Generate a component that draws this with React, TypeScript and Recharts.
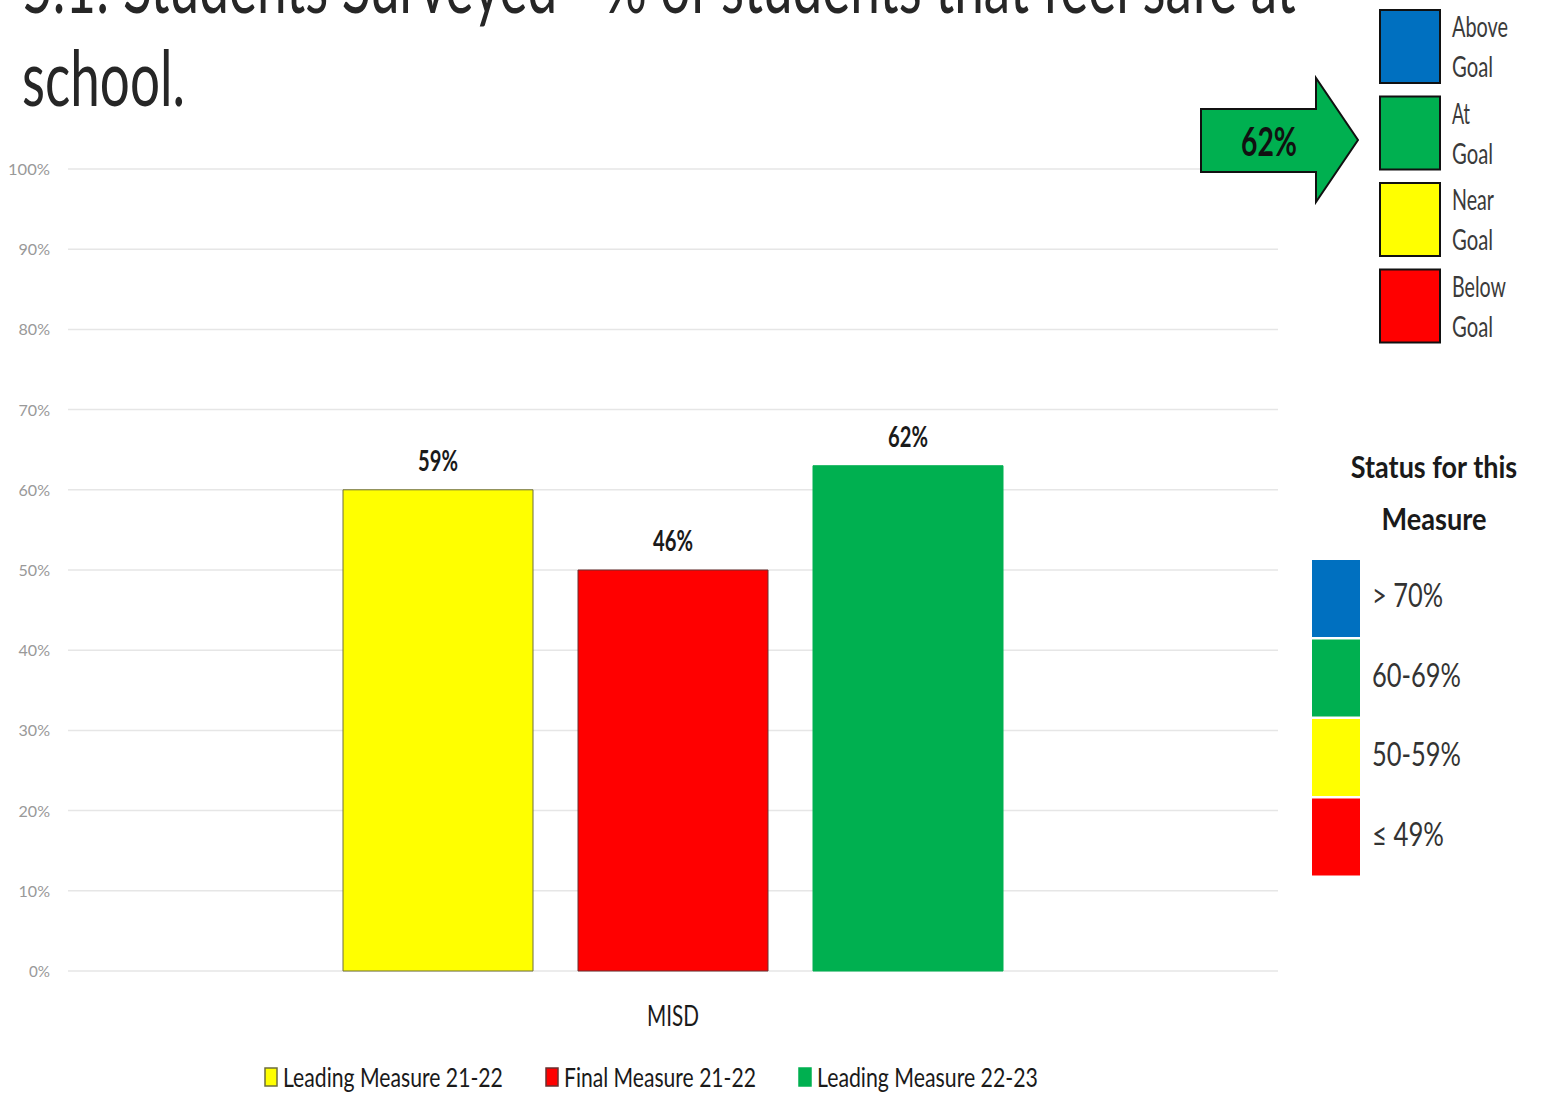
import React from 'react';
import { BarChart, Bar, XAxis, YAxis, CartesianGrid, Legend, LabelList } from 'recharts';

// chart data
const categories = ['MISD'];
const seriesKeys = ['lead2122', 'final2122', 'lead2223'];
const seriesNames = ['Leading Measure 21-22', 'Final Measure 21-22', 'Leading Measure 22-23'];
// bar heights as drawn, and the value labels printed over them (they differ in the source)
const barValues = [60, 50, 63];
const barLabels = ['59%', '46%', '62%'];
const yTicks = [0, 10, 20, 30, 40, 50, 60, 70, 80, 90, 100];

// side panels
const titleLines = ['5.1: Students Surveyed - % of students that feel safe at', 'school.'];
const goalNames = [['Above', 'Goal'], ['At', 'Goal'], ['Near', 'Goal'], ['Below', 'Goal']];
const statusRanges = ['> 70%', '60-69%', '50-59%', '≤ 49%'];
const currentValue = '62%';
const statusHeading = ['Status for this', 'Measure'];

// styles
const FONT = "Lato, 'Open Sans', 'Liberation Sans', sans-serif";
const seriesColors = ['#FFFF00', '#FF0000', '#00B050'];
const seriesStrokes = ['#6e6e3c', '#6a3030', '#00B050'];
const statusColors = ['#0070C0', '#00B050', '#FFFF00', '#FF0000'];
const legendTextWidths = [220, 192, 221];
const goalTextWidths = [[56, 41], [18, 41], [42, 41], [54, 41]];
const rangeTextWidths = [71, 89, 89, 72];

const rows = categories.map((name) => {
  const row: any = { name };
  seriesKeys.forEach((k, i) => {
    row[k] = barValues[i];
    row[k + 'Label'] = barLabels[i];
  });
  return row;
});

// the source uses a narrow face; measure and squeeze horizontally to the widths seen
let ctx: CanvasRenderingContext2D | null = null;
const measure = (s: string, size: number, weight: number) => {
  if (!ctx) ctx = document.createElement('canvas').getContext('2d');
  if (!ctx) return s.length * size * 0.5;
  ctx.font = `${weight} ${size}px ${FONT}`;
  return ctx.measureText(s).width;
};

const Squeezed = ({ x, y, w, size, weight = 400, fill = '#262626', anchor = 'start', children }: any) => {
  const s = String(children);
  const sx = w / measure(s, size, weight);
  return (
    <text
      transform={`translate(${x},${y}) scale(${sx},1)`}
      x={0}
      y={0}
      fontSize={size}
      fontWeight={weight}
      fill={fill}
      textAnchor={anchor}
      fontFamily={FONT}
    >
      {s}
    </text>
  );
};

const YTick = (props: any) => {
  const label = `${props.payload.value}%`;
  return (
    <Squeezed x={props.x} y={props.y + 6} w={label.length * 10.5} size={16} fill="#999" anchor="end">
      {label}
    </Squeezed>
  );
};

const XTick = (props: any) => (
  <Squeezed x={props.x} y={props.y + 47} w={52} size={29} fill="#1a1a1a" anchor="middle">
    {props.payload.value}
  </Squeezed>
);

const BarLabel = (props: any) => {
  const { x, y, width, value } = props;
  return (
    <Squeezed x={Number(x) + Number(width) / 2} y={Number(y) - 19} w={40} size={28} weight={700} fill="#1a1a1a" anchor="middle">
      {value}
    </Squeezed>
  );
};

const BottomLegend = (props: any) => {
  const payload = [...(props.payload || [])].sort(
    (a: any, b: any) => seriesNames.indexOf(a.value) - seriesNames.indexOf(b.value)
  );
  return (
    <div style={{ display: 'flex', justifyContent: 'flex-start', paddingLeft: 264, gap: 40 }}>
      {payload.map((p: any) => {
        const i = seriesNames.indexOf(p.value);
        return (
          <svg key={p.value} width={21 + legendTextWidths[i]} height={36} style={{ display: 'block', overflow: 'visible' }}>
            <rect x={1} y={6} width={12} height={18} fill={seriesColors[i]} stroke={seriesStrokes[i]} strokeWidth={1.5} />
            <Squeezed x={19} y={25} w={legendTextWidths[i]} size={27} fill="#1a1a1a">
              {p.value}
            </Squeezed>
          </svg>
        );
      })}
    </div>
  );
};

const Panels = () => (
  <svg width={1541} height={1093} style={{ position: 'absolute', left: 0, top: 0, pointerEvents: 'none' }}>
    <Squeezed x={22} y={13} w={1275} size={78} fill="#262626">{titleLines[0]}</Squeezed>
    <Squeezed x={22} y={106} w={163} size={78} fill="#262626">{titleLines[1]}</Squeezed>

    <path d="M1201,109 L1316,109 L1316,78 L1358,140 L1316,202 L1316,172 L1201,172 Z" fill="#00B050" stroke="#111" strokeWidth={2} />
    <Squeezed x={1269} y={156} w={56} size={40} weight={700} fill="#111" anchor="middle">{currentValue}</Squeezed>

    {goalNames.map((lines, i) => {
      const top = 10 + i * 86.5;
      return (
        <g key={i}>
          <rect x={1380} y={top} width={60} height={73} fill={statusColors[i]} stroke="#111" strokeWidth={2} />
          <Squeezed x={1452} y={top + 27} w={goalTextWidths[i][0]} size={28} fill="#3a3a3a">{lines[0]}</Squeezed>
          <Squeezed x={1452} y={top + 67} w={goalTextWidths[i][1]} size={28} fill="#3a3a3a">{lines[1]}</Squeezed>
        </g>
      );
    })}

    <Squeezed x={1434} y={478} w={167} size={31} weight={700} fill="#1a1a1a" anchor="middle">{statusHeading[0]}</Squeezed>
    <Squeezed x={1434} y={530} w={105} size={31} weight={700} fill="#1a1a1a" anchor="middle">{statusHeading[1]}</Squeezed>

    {statusRanges.map((r, i) => {
      const top = 560 + i * 79.5;
      return (
        <g key={i}>
          <rect x={1312} y={top} width={48} height={77} fill={statusColors[i]} />
          <Squeezed x={1372} y={top + 47} w={rangeTextWidths[i]} size={33} fill="#333">{r}</Squeezed>
        </g>
      );
    })}
  </svg>
);

export default function App() {
  return (
    <div style={{ position: 'absolute', left: 0, top: 0, width: 1541, height: 1093, background: '#fff' }}>
      <BarChart
        width={1541}
        height={1093}
        data={rows}
        margin={{ top: 169, right: 263, bottom: 0, left: 0 }}
        barGap={45}
        barSize={190}
      >
        <CartesianGrid vertical={false} stroke="#e6e6e6" strokeWidth={1.5} />
        <XAxis dataKey="name" height={122} axisLine={false} tickLine={false} tick={<XTick />} />
        <YAxis
          width={68}
          domain={[0, 100]}
          ticks={yTicks}
          axisLine={false}
          tickLine={false}
          tickMargin={12}
          tick={<YTick />}
        />
        <Legend
          layout="horizontal"
          verticalAlign="middle"
          align="center"
          itemSorter={null}
          wrapperStyle={{ position: 'absolute', left: 0, top: 1062, width: 1541 }}
          content={<BottomLegend />}
        />
        {seriesKeys.map((k, i) => (
          <Bar
            key={k}
            dataKey={k}
            name={seriesNames[i]}
            fill={seriesColors[i]}
            stroke={seriesStrokes[i]}
            strokeWidth={1}
            isAnimationActive={false}
          >
            <LabelList dataKey={k + 'Label'} content={<BarLabel />} />
          </Bar>
        ))}
      </BarChart>
      <Panels />
    </div>
  );
}
